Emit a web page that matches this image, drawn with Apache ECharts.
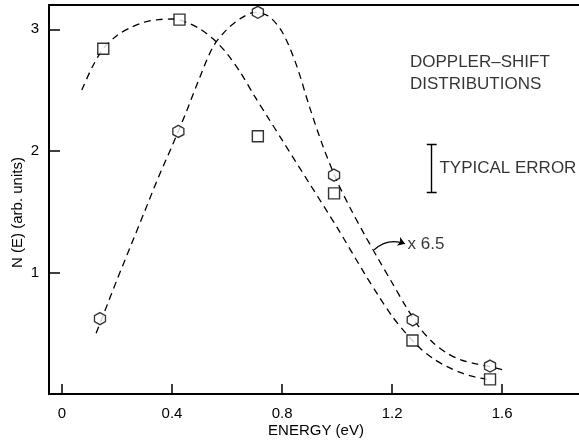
<!DOCTYPE html>
<html>
<head>
<meta charset="utf-8">
<script src="https://cdn.jsdelivr.net/npm/echarts@6/dist/echarts.min.js"></script>
<style>
html,body{margin:0;padding:0;background:#fff;}
#chart{width:579px;height:440px;}
</style>
</head>
<body>
<div id="chart"></div>
<script>
// Tick labels
const xTicks = [0, 0.4, 0.8, 1.2, 1.6];
const yTicks = [1, 2, 3];

// Measured points (squares)
const squareE = [0.150, 0.427, 0.712, 0.989, 1.274, 1.556];
const squareN = [2.84, 3.08, 2.12, 1.65, 0.44, 0.12];

// Measured points (hexagons, x 6.5)
const hexE = [0.138, 0.423, 0.712, 0.989, 1.275, 1.556];
const hexN = [0.62, 2.16, 3.14, 1.80, 0.61, 0.23];

// Dashed guide curve through squares
const squareCurveE = [0.072, 0.11, 0.15, 0.20, 0.25, 0.30, 0.35, 0.40, 0.45, 0.50, 0.55, 0.60, 0.65, 0.70, 0.75, 0.80, 0.90, 1.00, 1.10, 1.15, 1.20, 1.25, 1.30, 1.35, 1.40, 1.45, 1.50, 1.545];
const squareCurveN = [2.50, 2.69, 2.84, 2.95, 3.015, 3.06, 3.08, 3.085, 3.06, 3.005, 2.92, 2.80, 2.64, 2.45, 2.27, 2.09, 1.73, 1.37, 0.99, 0.81, 0.64, 0.50, 0.38, 0.29, 0.225, 0.175, 0.14, 0.12];

// Dashed guide curve through hexagons
const hexCurveE = [0.124, 0.15, 0.20, 0.25, 0.30, 0.35, 0.40, 0.45, 0.50, 0.55, 0.60, 0.65, 0.70, 0.75, 0.80, 0.85, 0.90, 0.95, 1.00, 1.05, 1.10, 1.15, 1.20, 1.25, 1.30, 1.35, 1.40, 1.45, 1.50, 1.556, 1.617];
const hexCurveN = [0.50, 0.65, 0.94, 1.22, 1.50, 1.78, 2.04, 2.31, 2.60, 2.86, 3.00, 3.09, 3.14, 3.11, 2.98, 2.72, 2.36, 2.03, 1.75, 1.52, 1.31, 1.11, 0.915, 0.72, 0.545, 0.42, 0.335, 0.28, 0.25, 0.225, 0.19];

// Typical error bar
const errorE = 1.344;
const errorLow = 1.66;
const errorHigh = 2.057;

// Scale-factor arrow (from curve to label)
const arrowE = [1.135, 1.247];
const arrowN = [1.187, 1.236];

// Annotation texts
const noteTexts = ['DOPPLER\u2013SHIFT', 'DISTRIBUTIONS', 'TYPICAL ERROR', 'x 6.5'];
const noteE = [1.265, 1.265, 1.372, 1.256];
const noteN = [2.73, 2.545, 1.86, 1.228];

const zip = (a, b) => a.map((v, i) => [v, b[i]]);
const FONT = '"Liberation Sans", Arial, sans-serif';
const capHalf = 0.018;

const chart = echarts.init(document.getElementById('chart'), null, {renderer: 'canvas'});
const xMin = -0.0473, xMax = 1.894;

chart.setOption({
  animation: false,
  backgroundColor: '#fff',
  textStyle: {fontFamily: FONT, color: '#000'},
  grid: {left: 49, top: 5, right: -4, bottom: 46, containLabel: false, outerBoundsMode: 'none',
    show: true, borderColor: '#000', borderWidth: 2, backgroundColor: 'transparent'},
  xAxis: {
    type: 'value', min: xMin, max: xMax, position: 'bottom',
    axisLine: {show: true, onZero: false, lineStyle: {color: '#000', width: 2}},
    axisTick: {show: true, inside: true, length: 10, customValues: xTicks, lineStyle: {color: '#000', width: 1.5}},
    axisLabel: {customValues: xTicks, color: '#000', fontSize: 15, fontFamily: FONT, margin: 12,
      formatter: v => (v === 0 ? '0' : v.toFixed(1))},
    splitLine: {show: false},
    name: 'ENERGY (eV)', nameLocation: 'middle', nameGap: 29, nameMoveOverlap: false,
    nameTextStyle: {color: '#000', fontSize: 15, fontFamily: FONT}
  },
  yAxis: {
    type: 'value', min: 0, max: 3.2,
    axisLine: {show: true, onZero: false, lineStyle: {color: '#000', width: 2}},
    axisTick: {show: true, inside: true, length: 11, customValues: yTicks, lineStyle: {color: '#000', width: 1.5}},
    axisLabel: {customValues: yTicks, color: '#000', fontSize: 15, fontFamily: FONT, margin: 10},
    splitLine: {show: false},
    name: 'N (E) (arb. units)', nameLocation: 'middle', nameGap: 24, nameMoveOverlap: false,
    nameTextStyle: {color: '#000', fontSize: 15, fontFamily: FONT, padding: [0, 26, 0, 0]}
  },
  series: [
    {
      type: 'line', data: zip(squareCurveE, squareCurveN), smooth: 0.3,
      showSymbol: false, symbol: 'none', z: 2, silent: true,
      lineStyle: {color: '#000', width: 1.3, type: [7, 5]}
    },
    {
      type: 'line', data: zip(hexCurveE, hexCurveN), smooth: 0.3,
      showSymbol: false, symbol: 'none', z: 2, silent: true,
      lineStyle: {color: '#000', width: 1.3, type: [7, 5]}
    },
    {
      type: 'scatter', data: zip(squareE, squareN), symbol: 'rect', symbolSize: 11, z: 5,
      itemStyle: {color: '#fff', borderColor: '#000', borderWidth: 1.4}
    },
    {
      type: 'scatter', data: zip(hexE, hexN),
      symbol: 'path://M0,-1L0.866,-0.5L0.866,0.5L0,1L-0.866,0.5L-0.866,-0.5Z',
      symbolKeepAspect: false, symbolSize: [11, 12], z: 5,
      itemStyle: {color: '#fff', borderColor: '#000', borderWidth: 1.4}
    },
    {
      type: 'lines', coordinateSystem: 'cartesian2d', z: 4, silent: true,
      lineStyle: {color: '#000', width: 1.4, opacity: 1},
      data: [
        {coords: [[errorE, errorLow], [errorE, errorHigh]]},
        {coords: [[errorE - capHalf, errorLow], [errorE + capHalf, errorLow]]},
        {coords: [[errorE - capHalf, errorHigh], [errorE + capHalf, errorHigh]]}
      ]
    },
    {
      type: 'lines', coordinateSystem: 'cartesian2d', z: 4, silent: true,
      symbol: ['none', 'arrow'], symbolSize: 7,
      lineStyle: {color: '#000', width: 1.2, opacity: 1, curveness: 0.3},
      data: [{coords: [[arrowE[0], arrowN[0]], [arrowE[1], arrowN[1]]]}]
    },
    {
      type: 'scatter', symbolSize: 0, z: 6, silent: true,
      data: noteTexts.map((t, i) => ({value: [noteE[i], noteN[i]], name: t})),
      label: {show: true, position: 'right', distance: 0, formatter: p => p.name,
        color: '#000', fontSize: 17, fontFamily: FONT}
    }
  ]
});
</script>
</body>
</html>
